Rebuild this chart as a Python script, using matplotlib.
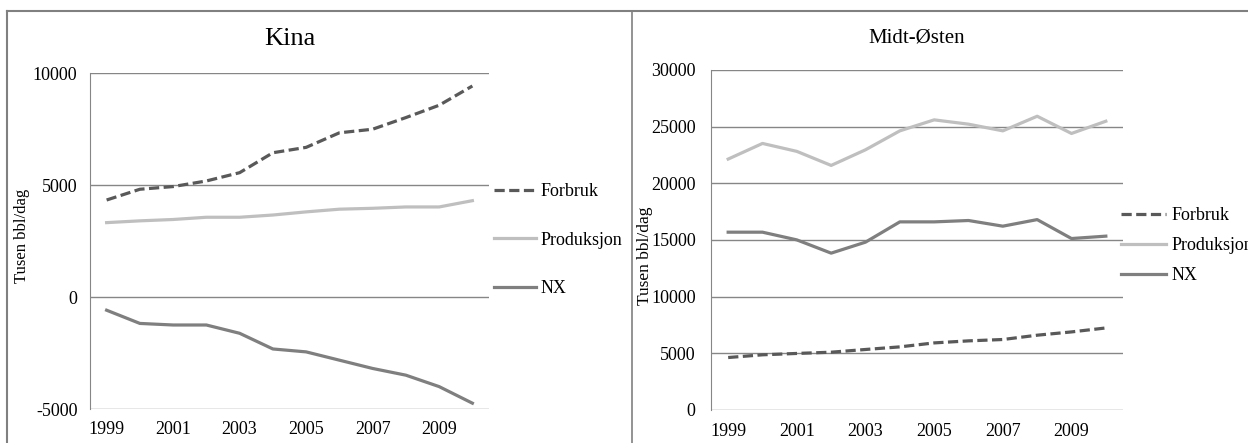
import matplotlib
matplotlib.use("Agg")
import matplotlib.pyplot as plt
from matplotlib.lines import Line2D

plt.rcParams['font.family'] = ['Liberation Serif', 'DejaVu Serif']
plt.rcParams['axes.unicode_minus'] = False

years = list(range(1999, 2011))
tick_years = [1999, 2001, 2003, 2005, 2007, 2009]

# Kina (tusen bbl/dag)
kina_forbruk = [4330, 4810, 4930, 5180, 5550, 6440, 6680, 7330, 7490, 8010, 8560, 9420]
kina_produksjon = [3320, 3400, 3460, 3560, 3560, 3660, 3800, 3920, 3960, 4020, 4020, 4300]
kina_nx = [-590, -1180, -1250, -1250, -1620, -2320, -2450, -2820, -3190, -3490, -4000, -4740]

# Midt-Østen
me_forbruk = [4630, 4870, 4990, 5100, 5340, 5570, 5920, 6100, 6220, 6600, 6890, 7240]
me_produksjon = [22140, 23520, 22820, 21580, 22960, 24630, 25600, 25220, 24630, 25920, 24400, 25480]
me_nx = [15690, 15690, 15010, 13840, 14810, 16600, 16600, 16720, 16220, 16800, 15130, 15340]

W, H = 1248, 443
fig = plt.figure(figsize=(W / 100, H / 100), dpi=100)

c_forbruk = "#595959"
c_prod = "#bfbfbf"
c_nx = "#7f7f7f"
grid_c = "#868686"


def px_axes(x0, y0, x1, y1):
    return fig.add_axes([x0 / W, 1 - y1 / H, (x1 - x0) / W, (y1 - y0) / H])


def draw(ax, forbruk, prod, nx, yticks, ypad):
    ax.plot(years, forbruk, color=c_forbruk, lw=2.3, ls=(0, (3.2, 1.4)), label="Forbruk")
    ax.plot(years, prod, color=c_prod, lw=2.3, label="Produksjon")
    ax.plot(years, nx, color=c_nx, lw=2.3, label="NX")
    ax.set_xlim(1998.5, 2010.5)
    ax.set_ylim(yticks[0], yticks[-1])
    ax.set_yticks(yticks)
    ax.set_xticks(tick_years)
    for y in yticks:
        ax.axhline(y, color=grid_c, lw=1, zorder=0)
    for s in ["top", "right", "bottom"]:
        ax.spines[s].set_visible(False)
    ax.spines["left"].set_color(grid_c)
    ax.tick_params(length=0, labelsize=13)
    ax.tick_params(axis="y", pad=ypad)
    ax.tick_params(axis="x", pad=9)


ax1 = px_axes(90, 73, 489, 409)
draw(ax1, kina_forbruk, kina_produksjon, kina_nx, [-5000, 0, 5000, 10000], 9)
ax1.set_title("Kina", fontsize=19, pad=20)
fig.text(22 / W, 1 - 236 / H, "Tusen bbl/dag", rotation=90, ha="center", va="center", fontsize=12)
ax1.legend(loc="center left", bbox_to_anchor=(494 / W, 1 - 240 / H), bbox_transform=fig.transFigure,
           frameon=False, fontsize=13, handlelength=2.3, handletextpad=0.3, labelspacing=1.75,
           borderpad=0, borderaxespad=0)

ax2 = px_axes(711, 70, 1123, 410)
draw(ax2, me_forbruk, me_produksjon, me_nx, [0, 5000, 10000, 15000, 20000, 25000, 30000], 11)
ax2.set_title("Midt-Østen", fontsize=15, pad=20)
fig.text(645 / W, 1 - 256 / H, "Tusen bbl/dag", rotation=90, ha="center", va="center", fontsize=12.5)
ax2.legend(loc="center left", bbox_to_anchor=(1121 / W, 1 - 246 / H), bbox_transform=fig.transFigure,
           frameon=False, fontsize=13, handlelength=2.5, handletextpad=0.3, labelspacing=0.72,
           borderpad=0, borderaxespad=0)

# panel frames
frame_c = "#808080"
fig.add_artist(Line2D([7 / W, 7 / W], [0, 1 - 11 / H], color=frame_c, lw=1.5))
fig.add_artist(Line2D([7 / W, 1], [1 - 11 / H, 1 - 11 / H], color=frame_c, lw=1.5))
fig.add_artist(Line2D([632 / W, 632 / W], [0, 1 - 11 / H], color=frame_c, lw=1.2))

fig.savefig("out.png", dpi=100)
